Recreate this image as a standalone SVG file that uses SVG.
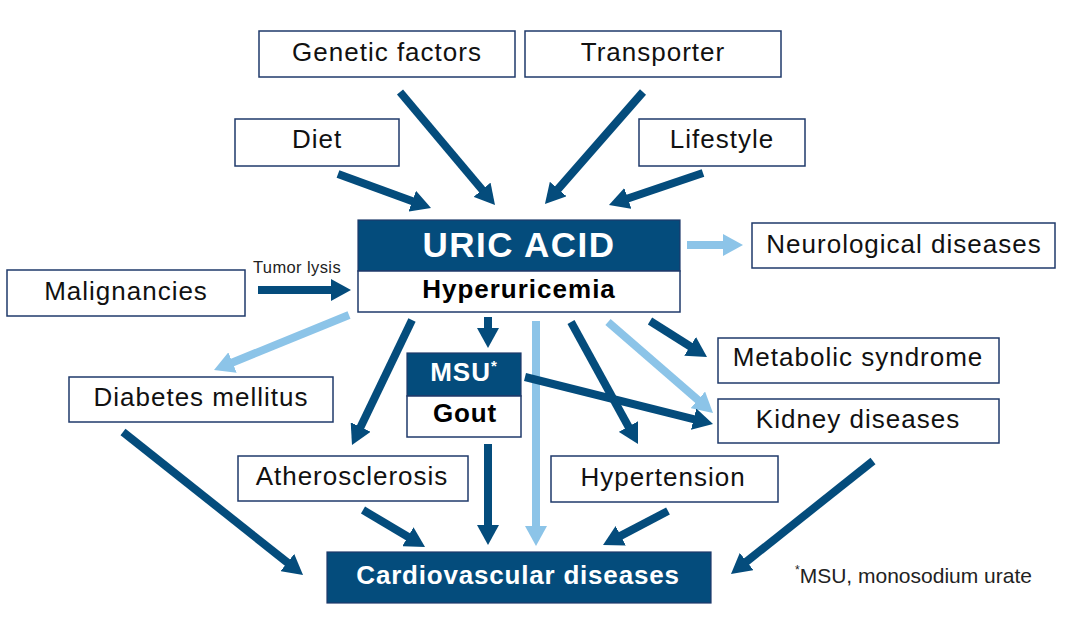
<svg xmlns="http://www.w3.org/2000/svg" width="1073" height="623" viewBox="0 0 1073 623">
<style>
.box{fill:#fff;stroke:#1f3a6b;stroke-width:1.5}
.dbox{fill:#044c7c;stroke:#1f3a6b;stroke-width:1.2}
.lbl{font-family:"Liberation Sans",Arial,sans-serif;font-size:26px;letter-spacing:1px;fill:#111;text-anchor:middle}
.bw{font-family:"Liberation Sans",Arial,sans-serif;font-weight:bold;fill:#fff;text-anchor:middle}
.bk{font-family:"Liberation Sans",Arial,sans-serif;font-weight:bold;fill:#000;text-anchor:middle}
.sm{font-family:"Liberation Sans",Arial,sans-serif;fill:#222}
.dk{stroke:#044c7c;stroke-width:8;fill:none;marker-end:url(#ad)}
.lt{stroke:#8cc4e8;stroke-width:8;fill:none;marker-end:url(#al)}
</style>
<defs>
<marker id="ad" markerUnits="userSpaceOnUse" markerWidth="20" markerHeight="22" viewBox="0 0 20 22" refX="4" refY="11" orient="auto"><path d="M0,0 L20,11 L0,22 z" fill="#044c7c"/></marker>
<marker id="al" markerUnits="userSpaceOnUse" markerWidth="20" markerHeight="22" viewBox="0 0 20 22" refX="4" refY="11" orient="auto"><path d="M0,0 L20,11 L0,22 z" fill="#8cc4e8"/></marker>
</defs>
<rect width="1073" height="623" fill="#fff"/>
<g id="connectors">
<line class="lt" x1="536" y1="321" x2="536" y2="530"/>
<line class="lt" x1="687" y1="245" x2="727" y2="245"/>
<line class="lt" x1="349" y1="315" x2="228.8" y2="364"/>
<line class="lt" x1="608" y1="322" x2="700.9" y2="402.5"/>
<line class="dk" x1="400" y1="92" x2="484.7" y2="192.75"/>
<line class="dk" x1="338" y1="174" x2="416" y2="202.5"/>
<line class="dk" x1="643" y1="92" x2="555.5" y2="192"/>
<line class="dk" x1="703" y1="173" x2="624.1" y2="199.8"/>
<line class="dk" x1="258" y1="290" x2="335" y2="290"/>
<line class="dk" x1="412" y1="320" x2="358.9" y2="430.6"/>
<line class="dk" x1="488" y1="317" x2="488" y2="332"/>
<line class="dk" x1="571" y1="322" x2="630.3" y2="430"/>
<line class="dk" x1="650" y1="321" x2="693.5" y2="348.5"/>
<line class="dk" x1="525" y1="377" x2="697.5" y2="420.1"/>
<line class="dk" x1="123" y1="432" x2="290.5" y2="565"/>
<line class="dk" x1="363" y1="510" x2="411.3" y2="538.8"/>
<line class="dk" x1="488" y1="444" x2="488" y2="529"/>
<line class="dk" x1="668" y1="511" x2="617.2" y2="537.6"/>
<line class="dk" x1="873" y1="461" x2="743.5" y2="564"/>
<text class="sm" x="297" y="273" font-size="16.5" text-anchor="middle" letter-spacing="0.4">Tumor lysis</text>
</g>
<g id="genetic"><rect class="box" x="259" y="31" width="256" height="46"/><text class="lbl" x="387" y="61">Genetic factors</text></g>
<g id="transporter"><rect class="box" x="525" y="31" width="256" height="46"/><text class="lbl" x="653" y="61">Transporter</text></g>
<g id="diet"><rect class="box" x="235" y="119" width="164" height="47"/><text class="lbl" x="317" y="148">Diet</text></g>
<g id="lifestyle"><rect class="box" x="639" y="119" width="166" height="47"/><text class="lbl" x="722" y="148">Lifestyle</text></g>
<g id="uricacid"><rect class="dbox" x="358" y="220" width="322" height="51"/><rect class="box" x="358" y="271" width="322" height="41"/><text class="bw" x="519" y="257" font-size="35" letter-spacing="1.5">URIC ACID</text><text class="bk" x="519" y="298" font-size="26" letter-spacing="1">Hyperuricemia</text></g>
<g id="neuro"><rect class="box" x="752" y="223" width="303" height="45"/><text class="lbl" x="904" y="253">Neurological diseases</text></g>
<g id="malignancies"><rect class="box" x="7" y="270" width="238" height="46"/><text class="lbl" x="126" y="300">Malignancies</text></g>
<g id="diabetes"><rect class="box" x="69" y="377" width="264" height="45"/><text class="lbl" x="201" y="406">Diabetes mellitus</text></g>
<g id="msu"><rect class="dbox" x="407" y="353" width="114" height="43"/><rect class="box" x="407" y="396" width="114" height="41"/><text class="bw" x="464" y="381" font-size="26" letter-spacing="1">MSU<tspan font-size="15" dy="-10">*</tspan></text><text class="bk" x="465" y="422" font-size="26" letter-spacing="0.8">Gout</text></g>
<g id="metabolic"><rect class="box" x="718" y="338" width="281" height="45"/><text class="lbl" x="858" y="366">Metabolic syndrome</text></g>
<g id="kidney"><rect class="box" x="718" y="399" width="281" height="44"/><text class="lbl" x="858" y="428">Kidney diseases</text></g>
<g id="athero"><rect class="box" x="238" y="456" width="230" height="45"/><text class="lbl" x="352" y="485">Atherosclerosis</text></g>
<g id="hypertension"><rect class="box" x="551" y="456" width="227" height="46"/><text class="lbl" x="663" y="486">Hypertension</text></g>
<g id="cardio"><rect class="dbox" x="327" y="552" width="384" height="51"/><text class="bw" x="518" y="584" font-size="26" letter-spacing="0.8">Cardiovascular diseases</text></g>
<g id="footnote"><text class="sm" x="795" y="583" font-size="21"><tspan font-size="12" dy="-9">*</tspan><tspan dy="9">MSU, monosodium urate</tspan></text></g>
</svg>
